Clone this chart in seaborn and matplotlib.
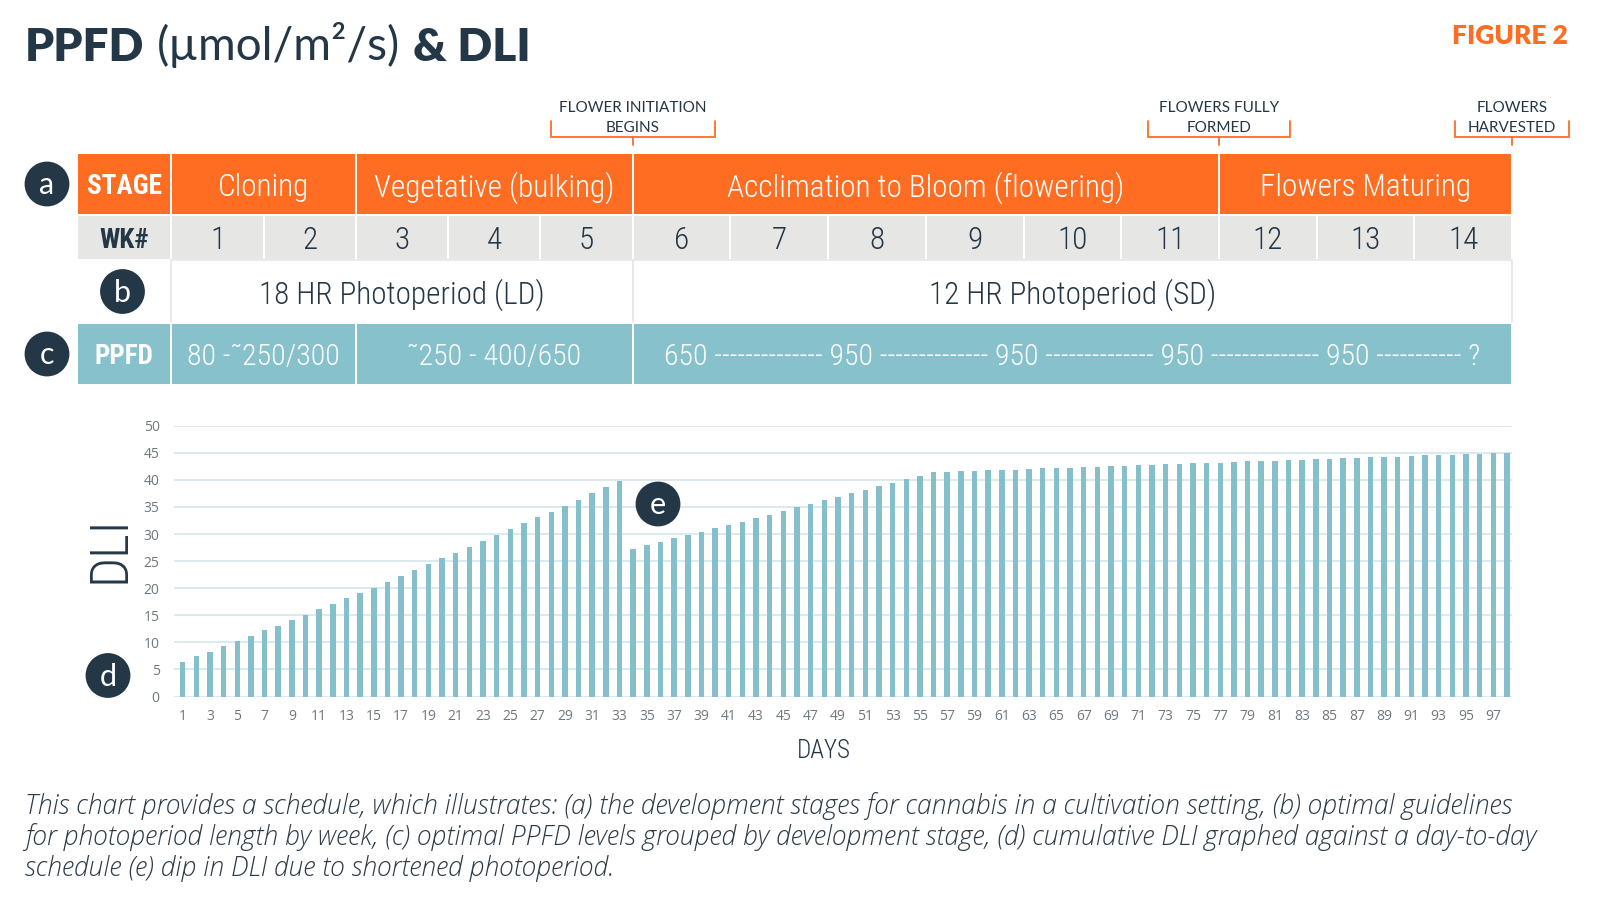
import matplotlib
matplotlib.use("Agg")
import matplotlib.pyplot as plt
from matplotlib import font_manager
from matplotlib.patches import Rectangle, Circle
import seaborn as sns
import pandas as pd

# ---- chart content ----
TITLE_PARTS = ["PPFD", "(µmol/m²/s)", "& DLI"]
FIGURE_LABEL = "FIGURE 2"

WEEKS = list(range(1, 15))
STAGES = ["Cloning", "Vegetative (bulking)", "Acclimation to Bloom (flowering)", "Flowers Maturing"]
STAGE_WEEKS = [(1, 2), (3, 5), (6, 11), (12, 14)]
PHOTOPERIODS = ["18 HR Photoperiod (LD)", "12 HR Photoperiod (SD)"]
PHOTO_WEEKS = [(1, 5), (6, 14)]
PPFD_LEVELS = [
    "80 -\u02dc250/300",
    "\u02dc250 - 400/650",
    "650 -------------- 950 -------------- 950 -------------- 950 -------------- 950 ----------- ?",
]
PPFD_WEEKS = [(1, 2), (3, 5), (6, 14)]
MILESTONES = ["FLOWER INITIATION\nBEGINS", "FLOWERS FULLY\nFORMED", "FLOWERS\nHARVESTED"]
MILESTONE_AFTER_WEEK = [5, 11, 14]

DAYS = list(range(1, 99))
DLI = [
    6.4, 7.4, 8.3, 9.3, 10.3, 11.2, 12.2, 13.1, 14.1, 15.1,
    16.1, 17.1, 18.1, 19.1, 20.1, 21.2, 22.3, 23.3, 24.4, 25.5,
    26.5, 27.6, 28.7, 29.8, 30.9, 32.0, 33.1, 34.1, 35.2, 36.3,
    37.5, 38.6, 39.7, 27.2, 27.9, 28.5, 29.2, 29.8, 30.4, 31.1,
    31.7, 32.3, 33.0, 33.6, 34.3, 34.9, 35.6, 36.3, 36.9, 37.5,
    38.2, 38.8, 39.5, 40.1, 40.7, 41.5, 41.5, 41.6, 41.7, 41.8,
    41.8, 41.9, 42.0, 42.1, 42.2, 42.2, 42.3, 42.4, 42.5, 42.6,
    42.7, 42.8, 42.9, 42.9, 43.1, 43.1, 43.2, 43.3, 43.4, 43.5,
    43.5, 43.7, 43.7, 43.8, 43.9, 44.0, 44.1, 44.2, 44.2, 44.3,
    44.4, 44.5, 44.5, 44.6, 44.7, 44.8, 44.9, 45.0,
]
DLI_TICKS = list(range(0, 51, 5))

CAPTION = [
    "This chart provides a schedule, which illustrates: (a) the development stages for cannabis in a cultivation setting, (b) optimal guidelines",
    "for photoperiod length by week, (c) optimal PPFD levels grouped by development stage, (d) cumulative DLI graphed against a day-to-day",
    "schedule (e) dip in DLI due to shortened photoperiod.",
]

# ---- colours ----
NAVY = "#243746"
ORANGE = "#FF6D22"
TEAL = "#86C1CC"
LIGHT_GRAY = "#E6E7E5"
BAR_COLOR = "#84BFCB"
GRID_COLOR = "#D6E9EE"
TICK_COLOR = "#6E7880"

sns.set_style("white")
plt.rcParams["font.family"] = ["Lato", "DejaVu Sans"]

# condensed face for the table, if one is installed
_names = {f.name for f in font_manager.fontManager.ttflist}
COND = next((n for n in ["Roboto Condensed", "Liberation Sans Narrow"] if n in _names), None)
if COND is None:
    COND, SHRINK = "Roboto", 0.82
else:
    SHRINK = 1.0
COND_FAMILY = [COND, "DejaVu Sans"]
SANS_FAMILY = ["Open Sans", "Lato", "DejaVu Sans"]

W, H = 1600, 900
fig = plt.figure(figsize=(16, 9), dpi=100)

# ---- DLI bar chart ----
df = pd.DataFrame({"day": DAYS, "dli": DLI})
ax = fig.add_axes([173.5 / W, 1 - 696.5 / H, (1512 - 173.5) / W, (696.5 - 425.7) / H])
sns.barplot(data=df, x="day", y="dli", color=BAR_COLOR, saturation=1, width=0.4,
            errorbar=None, linewidth=0, ax=ax, zorder=2)
ax.set_ylim(0, 50)
ax.set_xlim(-0.67, len(DAYS) - 1 + 0.37)
ax.set_yticks(DLI_TICKS)
ax.set_xticks(range(0, len(DAYS), 2))
ax.set_xticklabels([str(d) for d in DAYS[::2]])
ax.yaxis.grid(True, color=GRID_COLOR, linewidth=1.3, zorder=0)
ax.xaxis.grid(False)
ax.set_axisbelow(True)
sns.despine(ax=ax, left=True, bottom=True)
ax.tick_params(axis="both", length=0, colors=TICK_COLOR, labelsize=10)
ax.tick_params(axis="x", pad=9)
ax.tick_params(axis="y", pad=10)
for lab in ax.get_xticklabels() + ax.get_yticklabels():
    lab.set_family(SANS_FAMILY)
ax.set_xlabel("DAYS", family=COND_FAMILY, fontsize=18 * SHRINK, color=NAVY,
              fontweight="light", va="center")
ax.xaxis.set_label_coords(0.486, -0.201)
ax.set_ylabel("DLI", family=COND_FAMILY, fontsize=38 * SHRINK, color=NAVY,
              fontweight="light", va="center", ha="center")
ax.yaxis.set_label_coords(-0.048, 0.543)

# ---- overlay in pixel coordinates for header, table and notes ----
ov = fig.add_axes([0, 0, 1, 1])
ov.set_xlim(0, W)
ov.set_ylim(H, 0)
ov.axis("off")

# title
t = ov.text(25, 61, TITLE_PARTS[0], fontsize=33, fontweight="heavy", color=NAVY, va="baseline")
t = ov.annotate(TITLE_PARTS[1], xy=(1, 0), xycoords=t, xytext=(9, 0), textcoords="offset points",
                fontsize=33, fontweight="normal", color=NAVY, va="bottom", ha="left")
ov.annotate(TITLE_PARTS[2], xy=(1, 0), xycoords=t, xytext=(9, 0), textcoords="offset points",
            fontsize=33, fontweight="heavy", color=NAVY, va="bottom", ha="left")
ov.text(1568, 44, FIGURE_LABEL, fontsize=19, fontweight="heavy", color=ORANGE,
        ha="right", va="baseline")

# table geometry
X0, XL = 76.5, 171.4
W_EARLY, W_LATE = 92.26, 97.7


def edge(k):
    return XL + W_EARLY * min(k, 5) + W_LATE * max(k - 5, 0)


ROWS = {"stage": (153, 215), "wk": (215, 260), "photo": (260, 323), "ppfd": (323, 385)}


def cell(x0, x1, row, face, edgec="white", lw=1.4):
    y0, y1 = ROWS[row]
    ov.add_patch(Rectangle((x0, y0), x1 - x0, y1 - y0, facecolor=face,
                           edgecolor=edgec, linewidth=lw, zorder=2))
    return (x0 + x1) / 2, (y0 + y1) / 2


def body_text(x, y, s, size, color, weight="light"):
    ov.text(x, y, s, family=COND_FAMILY, fontsize=size * SHRINK, color=color,
            fontweight=weight, ha="center", va="center_baseline", zorder=3)


# stage row
cx, cy = cell(X0, XL, "stage", ORANGE)
body_text(cx, cy, "STAGE", 19.5, "white", "bold")
for name, (a, b) in zip(STAGES, STAGE_WEEKS):
    cx, cy = cell(edge(a - 1), edge(b), "stage", ORANGE)
    body_text(cx, cy, name, 22.5, "white")

# week row
cx, cy = cell(X0, XL, "wk", LIGHT_GRAY)
body_text(cx, cy, "WK#", 19.5, NAVY, "bold")
for w in WEEKS:
    cx, cy = cell(edge(w - 1), edge(w), "wk", LIGHT_GRAY)
    body_text(cx, cy, str(w), 22.5, NAVY)

# photoperiod row
for label, (a, b) in zip(PHOTOPERIODS, PHOTO_WEEKS):
    cx, cy = cell(edge(a - 1), edge(b), "photo", "white", edgec=LIGHT_GRAY, lw=1.2)
    body_text(cx, cy, label, 22.5, NAVY)

# PPFD row
cx, cy = cell(X0, XL, "ppfd", TEAL)
body_text(cx, cy, "PPFD", 19.5, "white", "bold")
for label, (a, b) in zip(PPFD_LEVELS, PPFD_WEEKS):
    cx, cy = cell(edge(a - 1), edge(b), "ppfd", TEAL)
    body_text(cx, cy, label, 21.5, "white")

# milestone brackets above the table
BRACKET_HALF = [82, 71, 57]
for label, wk, half in zip(MILESTONES, MILESTONE_AFTER_WEEK, BRACKET_HALF):
    xc = edge(wk)
    ov.plot([xc - half, xc - half, xc + half, xc + half], [120.5, 136.5, 136.5, 120.5],
            color=ORANGE, lw=1.3, solid_joinstyle="miter", zorder=3)
    ov.plot([xc, xc], [136.5, 145], color=ORANGE, lw=1.3, zorder=3)
    for i, line in enumerate(label.split("\n")):
        ov.text(xc, 107 + 20 * i, line, fontsize=11, color=NAVY, ha="center",
                va="center_baseline", zorder=3)

# lettered markers
for letter, (mx, my) in zip("abcde", [(47, 184), (122.5, 291.5), (47, 354), (108, 675.5), (658, 504)]):
    ov.add_patch(Circle((mx, my), 22.4, facecolor=NAVY, edgecolor="none", zorder=4))
    ov.text(mx, my - 1, letter, fontsize=22, color="white", ha="center",
            va="center_baseline", zorder=5)

# caption
for i, line in enumerate(CAPTION):
    ov.text(25, 803 + 31 * i, line, family=SANS_FAMILY, fontsize=19.1, style="italic",
            fontweight="light", color="#2B3B48", ha="left", va="center_baseline")

fig.savefig("out.png", dpi=100)
